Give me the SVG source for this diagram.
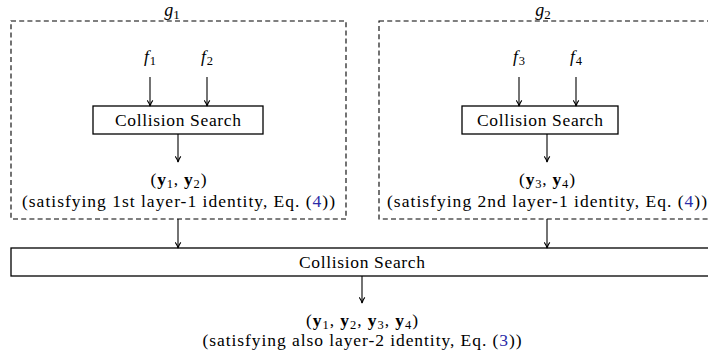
<svg xmlns="http://www.w3.org/2000/svg" width="708" height="358" viewBox="0 0 708 358">
<defs>
<marker id="ah" viewBox="0 0 10 10" refX="9" refY="5" markerWidth="7" markerHeight="7" markerUnits="userSpaceOnUse" orient="auto">
<path d="M1,1 Q5,4 9,5 Q5,6 1,9" fill="none" stroke="#000" stroke-width="1.6"/>
</marker>
</defs>
<style>
.dash{fill:none;stroke:#000;stroke-width:1.1;stroke-dasharray:5 3.2}
.box{fill:#fff;stroke:#000;stroke-width:1.3}
.lnk{fill:#2b2ba8}
</style>
<g id="group-g1">
<rect class="dash" x="11" y="21" width="335" height="198"/>
<text x="172" y="16" font-family="Liberation Serif" font-size="18" font-style="italic" text-anchor="middle">g<tspan font-size="13" font-style="normal" dy="3">1</tspan></text>
</g>
<g id="group-g2">
<rect class="dash" x="379" y="21" width="340" height="198"/>
<text x="543" y="16" font-family="Liberation Serif" font-size="18" font-style="italic" text-anchor="middle">g<tspan font-size="13" font-style="normal" dy="3">2</tspan></text>
</g>
<g id="f1"><text x="150" y="62" font-family="Liberation Serif" font-size="17.5" font-style="italic" text-anchor="middle">f<tspan font-size="12.5" font-style="normal" dx="1" dy="3">1</tspan></text></g>
<g id="f2"><text x="207" y="62" font-family="Liberation Serif" font-size="17.5" font-style="italic" text-anchor="middle">f<tspan font-size="12.5" font-style="normal" dx="1" dy="3">2</tspan></text></g>
<g id="f3"><text x="519" y="62" font-family="Liberation Serif" font-size="17.5" font-style="italic" text-anchor="middle">f<tspan font-size="12.5" font-style="normal" dx="1" dy="3">3</tspan></text></g>
<g id="f4"><text x="576" y="62" font-family="Liberation Serif" font-size="17.5" font-style="italic" text-anchor="middle">f<tspan font-size="12.5" font-style="normal" dx="1" dy="3">4</tspan></text></g>
<g id="cs1">
<rect class="box" x="93" y="106" width="170" height="28"/>
<text x="178" y="125.5" font-family="Liberation Serif" font-size="17.5" text-anchor="middle" textLength="126" lengthAdjust="spacing">Collision Search</text>
</g>
<g id="cs2">
<rect class="box" x="462" y="106" width="156" height="28"/>
<text x="540" y="125.5" font-family="Liberation Serif" font-size="17.5" text-anchor="middle" textLength="126" lengthAdjust="spacing">Collision Search</text>
</g>
<g id="out1">
<text x="178.5" y="185" font-family="Liberation Serif" font-size="17.5" text-anchor="middle" textLength="56" lengthAdjust="spacing">(<tspan font-weight="bold">y</tspan><tspan font-size="12.5" dy="3">1</tspan><tspan dy="-3">, </tspan><tspan font-weight="bold">y</tspan><tspan font-size="12.5" dy="3">2</tspan><tspan dy="-3">)</tspan></text>
<text x="178.5" y="207" font-family="Liberation Serif" font-size="17.5" text-anchor="middle" textLength="313" lengthAdjust="spacing">(satisfying 1st layer-1 identity, Eq. (<tspan class="lnk">4</tspan>))</text>
</g>
<g id="out2">
<text x="547" y="185" font-family="Liberation Serif" font-size="17.5" text-anchor="middle" textLength="56" lengthAdjust="spacing">(<tspan font-weight="bold">y</tspan><tspan font-size="12.5" dy="3">3</tspan><tspan dy="-3">, </tspan><tspan font-weight="bold">y</tspan><tspan font-size="12.5" dy="3">4</tspan><tspan dy="-3">)</tspan></text>
<text x="547" y="207" font-family="Liberation Serif" font-size="17.5" text-anchor="middle" textLength="320" lengthAdjust="spacing">(satisfying 2nd layer-1 identity, Eq. (<tspan class="lnk">4</tspan>))</text>
</g>
<g id="cs3">
<rect class="box" x="11" y="248" width="710" height="28"/>
<text x="362" y="267.5" font-family="Liberation Serif" font-size="17.5" text-anchor="middle" textLength="126" lengthAdjust="spacing">Collision Search</text>
</g>
<g id="out3">
<text x="362" y="326" font-family="Liberation Serif" font-size="17.5" text-anchor="middle" textLength="112" lengthAdjust="spacing">(<tspan font-weight="bold">y</tspan><tspan font-size="12.5" dy="3">1</tspan><tspan dy="-3">, </tspan><tspan font-weight="bold">y</tspan><tspan font-size="12.5" dy="3">2</tspan><tspan dy="-3">, </tspan><tspan font-weight="bold">y</tspan><tspan font-size="12.5" dy="3">3</tspan><tspan dy="-3">, </tspan><tspan font-weight="bold">y</tspan><tspan font-size="12.5" dy="3">4</tspan><tspan dy="-3">)</tspan></text>
<text x="362" y="346" font-family="Liberation Serif" font-size="17.5" text-anchor="middle" textLength="319" lengthAdjust="spacing">(satisfying also layer-2 identity, Eq. (<tspan class="lnk">3</tspan>))</text>
</g>
<g id="connectors" fill="none" stroke="#000" stroke-width="1.1" marker-end="url(#ah)">
<line x1="150" y1="77" x2="150" y2="106"/>
<line x1="207" y1="77" x2="207" y2="106"/>
<line x1="519" y1="77" x2="519" y2="106"/>
<line x1="576" y1="77" x2="576" y2="106"/>
<line x1="178" y1="134" x2="178" y2="162"/>
<line x1="547" y1="134" x2="547" y2="162"/>
<line x1="178" y1="219" x2="178" y2="248"/>
<line x1="547" y1="219" x2="547" y2="248"/>
<line x1="362" y1="276" x2="362" y2="303"/>
</g>
</svg>
